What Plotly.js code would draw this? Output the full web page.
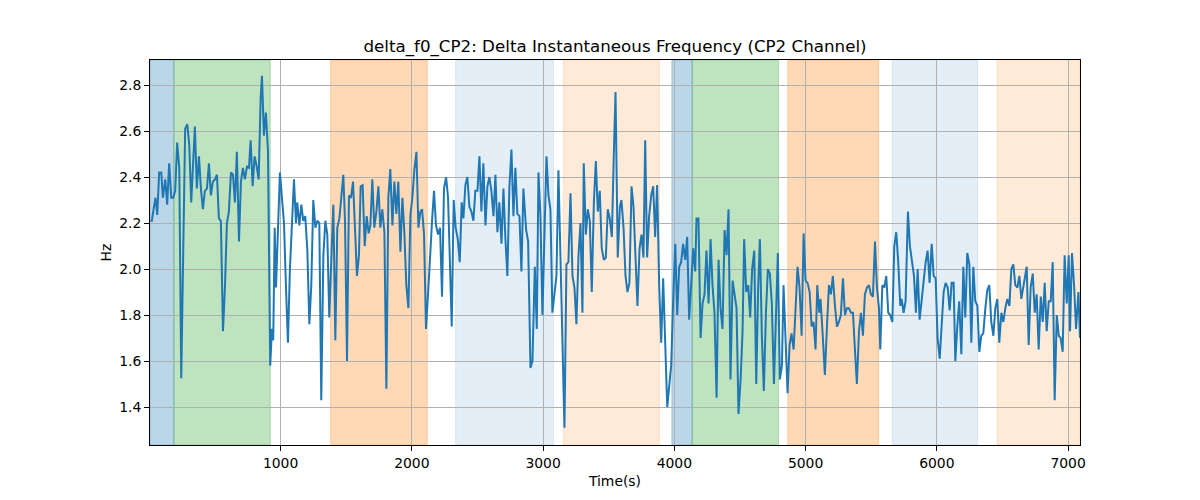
<!DOCTYPE html>
<html>
<head>
<meta charset="utf-8">
<script src="https://cdn.plot.ly/plotly-3.0.1.min.js"></script>
<style>
  html, body { margin: 0; padding: 0; background: white; }
  #chart { width: 1200px; height: 500px; }
</style>
</head>
<body>
<div id="chart"></div>
<script>
// Sample times (s) and delta f0 values (Hz)
const time = [
  9, 19, 35, 47, 60, 75, 91, 103, 121, 136, 151, 167, 182, 197, 212, 228, 243, 273, 289, 304,
  319, 334, 347, 362, 378, 393, 408, 423, 439, 454, 469, 484, 500, 515, 530, 545, 561, 576, 591, 606,
  622, 637, 652, 667, 683, 698, 713, 728, 744, 759, 772, 787, 802, 817, 833, 848, 858, 873, 888, 904,
  921, 934, 944, 955, 965, 995, 1010, 1026, 1041, 1056, 1071, 1087, 1102, 1117, 1127, 1143, 1158, 1173, 1188, 1204,
  1219, 1234, 1249, 1265, 1280, 1295, 1310, 1326, 1341, 1356, 1371, 1387, 1402, 1417, 1432, 1448, 1463, 1478,
  1491, 1506, 1521, 1536, 1552, 1567, 1582, 1597, 1610, 1625, 1641, 1656, 1671, 1684, 1699, 1714, 1730, 1745, 1760, 1775,
  1791, 1806, 1821, 1836, 1852, 1867, 1882, 1897, 1913, 1928, 1943, 1958, 1974, 1989, 2004, 2019, 2035, 2050, 2065, 2078,
  2093, 2108, 2123, 2139, 2154, 2169, 2184, 2200, 2215, 2230, 2245, 2261, 2276, 2289, 2304, 2319, 2334, 2350, 2365, 2380,
  2393, 2408, 2423, 2439, 2454, 2469, 2484, 2500, 2515, 2530, 2545, 2561, 2576, 2591, 2606, 2622, 2637, 2652, 2667, 2683,
  2698, 2713, 2728, 2743, 2759, 2774, 2789, 2804, 2820, 2835, 2850,
  2871, 2886, 2904, 2919, 2937, 2952, 2965, 2980, 2995, 3010, 3026, 3041, 3056, 3071, 3087, 3102, 3117, 3132, 3148, 3163,
  3178, 3193, 3209, 3224, 3239, 3254, 3270, 3285, 3300, 3310, 3326, 3341, 3356, 3371, 3387, 3402, 3417, 3432, 3447, 3463,
  3478, 3493, 3508, 3524, 3539, 3552, 3569, 3585, 3597, 3613, 3628, 3643, 3658, 3674, 3689, 3704, 3719, 3735, 3750, 3765,
  3778, 3793, 3808, 3824, 3839, 3854, 3869, 3885, 3900, 3915, 3930, 3946, 3961, 3976, 3991, 4007, 4022, 4037, 4052, 4067,
  4083, 4098, 4113, 4129, 4144, 4159, 4169, 4184,
  4200, 4215, 4230, 4245, 4261, 4276, 4291, 4306, 4322, 4337, 4352, 4367, 4383, 4398, 4413, 4428, 4444, 4459, 4474, 4489,
  4505, 4520, 4532, 4548, 4563, 4578, 4593, 4609, 4624, 4639, 4652, 4667, 4682, 4698, 4713, 4728, 4743, 4759, 4774, 4789,
  4804, 4820, 4832, 4848, 4863, 4878, 4893, 4909, 4924, 4939, 4954, 4970, 4985, 5000, 5015, 5031, 5046, 5061, 5076, 5089,
  5104, 5114, 5130, 5147, 5163, 5178, 5193, 5208, 5224, 5239, 5254, 5269, 5285, 5300, 5315, 5330, 5346, 5361, 5376, 5391,
  5407, 5422, 5437, 5452, 5468, 5483, 5498, 5513, 5529, 5544, 5559, 5569, 5585, 5600,
  5615, 5630, 5645, 5661, 5676, 5691, 5706, 5722, 5732, 5747, 5762, 5780, 5795, 5811, 5826, 5841, 5854, 5869, 5884, 5900,
  5915, 5930, 5945, 5961, 5976, 5991, 6006, 6022, 6037, 6052, 6067, 6083, 6098, 6113, 6128, 6141, 6156, 6171, 6187, 6202,
  6217, 6232, 6248, 6263, 6278, 6293, 6309, 6324, 6339, 6354, 6370, 6385, 6400, 6415, 6431, 6446, 6461, 6476, 6492, 6507,
  6522, 6537, 6553, 6568, 6583, 6598, 6614, 6629, 6644, 6659, 6675, 6685, 6700, 6715, 6731, 6746, 6761, 6776, 6792, 6807,
  6822, 6837, 6853, 6868, 6883, 6898, 6914, 6929, 6944, 6959, 6974, 6990, 7005, 7015, 7030, 7046, 7061, 7079, 7091
];

const deltaF0 = [
  2.21, 2.21, 2.27, 2.31, 2.235, 2.42, 2.42, 2.31, 2.39, 2.28, 2.46, 2.31, 2.31, 2.34, 2.55, 2.44, 1.525, 2.61, 2.63, 2.54,
  2.29, 2.50, 2.62, 2.35, 2.49, 2.35, 2.26, 2.34, 2.35, 2.46, 2.32, 2.38, 2.39, 2.41, 2.22, 2.21, 1.73, 1.92, 2.20, 2.25,
  2.42, 2.41, 2.29, 2.51, 2.12, 2.38, 2.44, 2.39, 2.445, 2.44, 2.56, 2.36, 2.49, 2.45, 2.39, 2.74, 2.84, 2.58, 2.68, 2.51,
  1.58, 1.74, 1.69, 2.18, 1.92, 2.42, 2.32, 2.20, 1.92, 1.68, 2.00, 2.21, 2.39, 2.20, 2.29, 2.19, 2.28, 2.21, 2.23, 2.08,
  1.76, 1.93, 2.30, 2.18, 2.21, 2.20, 1.43, 2.06, 2.21, 2.15, 1.79, 2.05, 2.28, 1.69, 2.18, 2.22, 2.31, 2.41,
  2.206, 1.60, 2.32, 2.31, 2.38, 2.18, 1.97, 2.06, 2.36, 2.365, 2.10, 2.23, 2.155, 2.19, 2.39, 2.18, 2.25, 2.36, 2.18, 2.26,
  2.16, 1.48, 2.31, 2.435, 2.19, 2.38, 2.24, 2.38, 2.075, 2.31, 2.16, 1.93, 1.83, 2.235, 2.31, 2.43, 2.51, 2.18, 2.25, 2.26,
  2.15, 1.74, 1.87, 2.05, 2.21, 2.34, 2.19, 2.15, 2.18, 1.88, 2.35, 2.40, 2.31, 2.075, 1.75, 2.30, 2.18, 2.13, 2.03, 2.29,
  2.22, 2.365, 2.40, 2.27, 2.25, 2.21, 2.34, 2.34, 2.49, 2.25, 2.46, 2.19, 2.36, 2.40, 2.34, 2.23, 2.41, 2.16, 2.29, 2.11,
  2.35, 2.13, 1.97, 2.35, 2.52, 2.23, 2.44, 2.24, 2.23, 1.99, 2.35,
  2.17, 2.12, 1.57, 1.60, 2.01, 1.74, 2.42, 2.23, 1.80, 2.18, 2.49, 2.32, 2.26, 1.81, 1.89, 1.97, 2.43, 2.075, 1.71, 1.31,
  2.02, 2.03, 2.33, 1.97, 1.92, 1.76, 2.06, 2.20, 1.81, 2.46, 2.15, 2.26, 2.21, 1.90, 2.29, 2.47, 2.25, 2.34, 2.09, 2.04,
  2.05, 2.26, 2.22, 2.14, 2.50, 2.77, 2.05, 2.27, 2.30, 2.18, 1.97, 1.90, 1.94, 2.36, 2.27, 2.06, 1.84, 2.09, 2.15, 2.05,
  2.56, 2.05, 2.23, 2.32, 2.36, 2.14, 2.365, 1.92, 1.68, 1.96, 1.69, 1.40, 1.49, 1.58, 1.86, 2.11, 1.80, 2.01, 2.03, 2.11,
  2.04, 2.14, 1.78, 1.94, 2.09, 1.99, 2.22, 2.22,
  1.70, 1.85, 1.89, 2.08, 1.85, 2.13, 1.93, 1.81, 1.44, 2.04, 1.83, 1.74, 2.17, 2.06, 2.26, 1.52, 1.95, 1.89, 1.83, 1.37,
  1.52, 1.73, 2.13, 1.90, 1.93, 1.79, 2.00, 2.08, 1.50, 1.92, 2.13, 1.71, 1.47, 1.81, 2.00, 1.98, 1.85, 1.50, 1.83, 2.07,
  1.52, 1.58, 1.93, 1.67, 1.46, 1.67, 1.72, 1.65, 1.85, 2.01, 1.92, 1.71, 2.155, 1.95, 1.94, 1.90, 1.75, 1.77, 1.65, 1.93,
  1.81, 1.87, 1.72, 1.54, 1.75, 1.93, 1.89, 1.97, 1.84, 1.75, 1.77, 1.80, 1.96, 1.80, 1.83, 1.83, 1.81, 1.81, 1.65, 1.50,
  1.73, 1.81, 1.71, 1.89, 1.92, 1.93, 1.89, 1.88, 2.12, 1.92, 1.83, 1.65, 1.93, 1.92,
  1.97, 1.81, 1.80, 1.77, 2.10, 2.16, 2.03, 1.84, 1.87, 1.81, 1.86, 2.25, 2.10, 2.02, 1.97, 1.81, 2.00, 1.78, 1.87, 1.96,
  2.03, 2.08, 1.94, 2.11, 1.97, 1.96, 1.70, 1.61, 1.77, 1.90, 1.94, 1.92, 1.82, 1.94, 1.94, 1.60, 1.75, 1.86, 1.63, 2.01,
  1.79, 2.07, 2.02, 1.68, 2.01, 1.86, 1.84, 1.64, 1.71, 1.72, 1.83, 1.91, 1.93, 1.77, 1.71, 1.83, 1.87, 1.68, 1.81, 1.77,
  1.83, 1.87, 1.84, 2.00, 2.02, 1.93, 1.92, 1.97, 1.87, 1.92, 1.96, 2.01, 1.67, 1.92, 1.98, 1.81, 1.89, 1.65, 1.88, 1.77,
  1.94, 1.73, 1.86, 1.86, 2.03, 1.43, 1.80, 1.71, 1.70, 1.64, 2.06, 1.85, 2.06, 1.73, 2.07, 1.93, 1.74, 1.90, 1.70
];

// Shaded phases (start, end in seconds) and their kind
const spanStart = [5, 187, 1381, 2334, 3153, 3981, 4136, 4865, 5661, 6459];
const spanEnd   = [187, 921, 2118, 3079, 3887, 4136, 4794, 5557, 6311, 7091];
const spanKind  = ['blue', 'green', 'orange', 'lightblue', 'lightorange',
                   'blue', 'green', 'orange', 'lightblue', 'lightorange'];

const xTicks = [1000, 2000, 3000, 4000, 5000, 6000, 7000];
const yTicks = [1.4, 1.6, 1.8, 2.0, 2.2, 2.4, 2.6, 2.8];

const spanColors = {
    blue: 'rgba(31,119,180,0.3)',
    green: 'rgba(44,160,44,0.3)',
    orange: 'rgba(255,127,14,0.3)',
    lightblue: 'rgba(31,119,180,0.12)',
    lightorange: 'rgba(255,127,14,0.16)'
};

const shapes = spanStart.map(function(s, i) {
    return {
        type: 'rect',
        xref: 'x', yref: 'paper',
        x0: s, x1: spanEnd[i], y0: 0, y1: 1,
        fillcolor: spanColors[spanKind[i]],
        line: { color: spanColors[spanKind[i]], width: 1 },
        layer: 'below'
    };
});

const font = 'DejaVu Sans, sans-serif';

const trace = {
    x: time,
    y: deltaF0,
    type: 'scatter',
    mode: 'lines',
    line: { color: '#1f77b4', width: 2 },
    hoverinfo: 'x+y'
};

const layout = {
    width: 1200,
    height: 500,
    margin: { l: 150, r: 120, t: 60, b: 55 },
    paper_bgcolor: 'white',
    plot_bgcolor: 'white',
    showlegend: false,
    title: {
        text: 'delta_f0_CP2: Delta Instantaneous Frequency (CP2 Channel)',
        font: { family: font, size: 16.7, color: 'black' },
        xref: 'paper', x: 0.5, xanchor: 'center',
        yref: 'container', y: 0.908, yanchor: 'middle'
    },
    xaxis: {
        range: [5, 7091],
        tickvals: xTicks,
        ticktext: xTicks.map(String),
        ticks: 'outside', ticklen: 5, tickcolor: 'black',
        showline: true, mirror: true, linecolor: 'black', linewidth: 1,
        showgrid: true, gridcolor: '#b0b0b0', gridwidth: 1,
        zeroline: false,
        tickfont: { family: font, size: 13.9, color: 'black' },
        title: { text: 'Time(s)', font: { family: font, size: 13.9, color: 'black' }, standoff: 6 }
    },
    yaxis: {
        range: [1.235, 2.909],
        tickvals: yTicks,
        ticktext: yTicks.map(function(v) { return v.toFixed(1); }),
        ticks: 'outside', ticklen: 5, tickcolor: 'black',
        showline: true, mirror: true, linecolor: 'black', linewidth: 1,
        showgrid: true, gridcolor: '#b0b0b0', gridwidth: 1,
        zeroline: false,
        tickfont: { family: font, size: 13.9, color: 'black' },
        title: { text: 'Hz', font: { family: font, size: 13.9, color: 'black' }, standoff: 4 }
    },
    shapes: shapes
};

Plotly.newPlot('chart', [trace], layout, { displayModeBar: false, staticPlot: true });
</script>
</body>
</html>
